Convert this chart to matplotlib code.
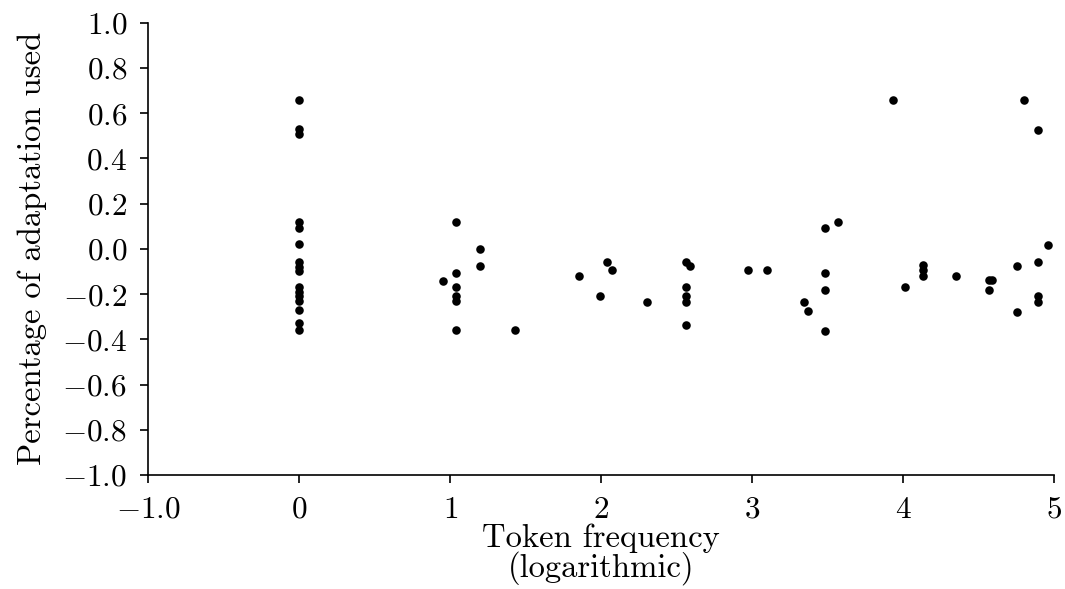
import matplotlib
matplotlib.use("Agg")
import matplotlib.pyplot as plt

plt.rcParams['mathtext.fontset'] = 'cm'
plt.rcParams['font.family'] = ['cmr10', 'DejaVu Serif']
plt.rcParams['axes.unicode_minus'] = False

# Token frequency (log) and percentage of adaptation used
freq = (
    [0.0] * 16
    + [1.04] * 6 + [0.95, 1.20, 1.20, 1.43]
    + [1.85, 1.99, 2.04, 2.07, 2.30]
    + [2.56, 2.59, 2.56, 2.56, 2.56, 2.56]
    + [2.97, 3.10, 3.34, 3.37]
    + [3.48, 3.48, 3.48, 3.48, 3.57]
    + [3.93, 4.01, 4.13, 4.13, 4.13, 4.35, 4.57, 4.59, 4.57]
    + [4.75, 4.75, 4.80, 4.89, 4.89, 4.89, 4.89, 4.96]
)
adapt = (
    [0.66, 0.53, 0.51, 0.12, 0.09, 0.02, -0.06, -0.08, -0.10,
     -0.17, -0.19, -0.21, -0.23, -0.27, -0.33, -0.36]
    + [0.12, -0.105, -0.17, -0.21, -0.23, -0.36, -0.14, 0.00, -0.075, -0.36]
    + [-0.12, -0.21, -0.06, -0.095, -0.235]
    + [-0.06, -0.078, -0.17, -0.21, -0.233, -0.338]
    + [-0.095, -0.095, -0.235, -0.273]
    + [0.09, -0.107, -0.183, -0.365, 0.12]
    + [0.66, -0.17, -0.073, -0.095, -0.118, -0.118, -0.137, -0.137, -0.183]
    + [-0.078, -0.28, 0.66, 0.527, -0.06, -0.207, -0.233, 0.018]
)

xticks = [-1, 0, 1, 2, 3, 4, 5]
xticklabels = ['$-1.0$', '$0$', '$1$', '$2$', '$3$', '$4$', '$5$']
yticks = [-1.0, -0.8, -0.6, -0.4, -0.2, 0.0, 0.2, 0.4, 0.6, 0.8, 1.0]
yticklabels = ['$%.1f$' % v for v in yticks]

fig = plt.figure(figsize=(10.65, 5.89), dpi=100)
ax = fig.add_axes([0.139, 0.1935, 0.851, 0.768])
ax.scatter(freq, adapt, s=38, color='black', linewidths=0, zorder=3)

ax.set_xlim(-1, 5)
ax.set_ylim(-1, 1)
ax.set_xticks(xticks)
ax.set_xticklabels(xticklabels)
ax.set_yticks(yticks)
ax.set_yticklabels(yticklabels)
ax.tick_params(axis='both', labelsize=22.5, length=6, width=1.2, direction='out',
               colors='black', pad=9)
for side in ['top', 'right']:
    ax.spines[side].set_visible(False)
for side in ['left', 'bottom']:
    ax.spines[side].set_linewidth(1.2)

ax.set_xlabel('Token frequency\n(logarithmic)', fontsize=23.5, labelpad=0, linespacing=0.9)
ax.set_ylabel('Percentage of adaptation used', fontsize=23.5, labelpad=11)

fig.savefig('out.png', dpi=100)
